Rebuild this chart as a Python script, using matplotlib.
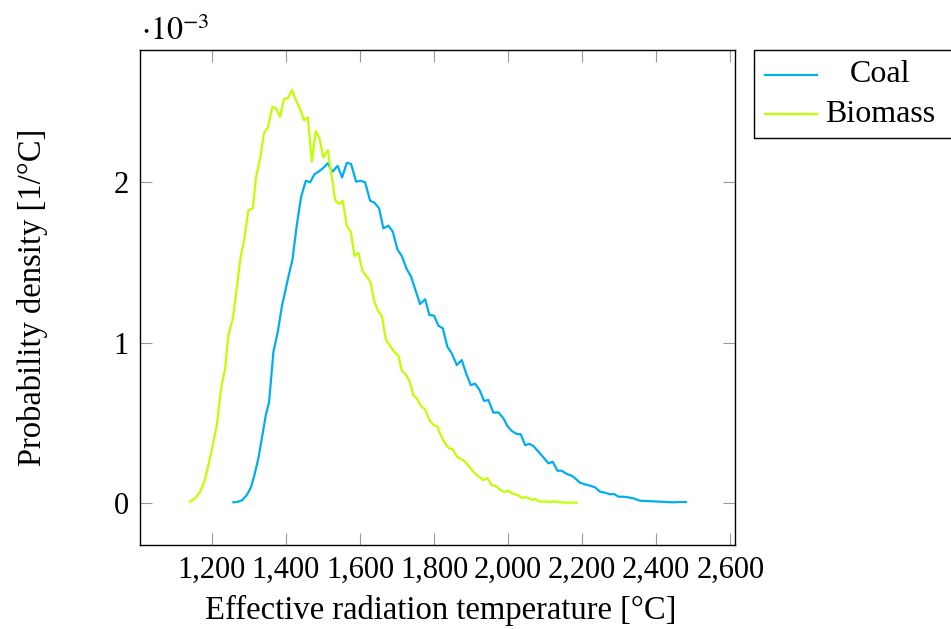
import matplotlib
matplotlib.use("Agg")
import matplotlib.pyplot as plt
from matplotlib.ticker import FuncFormatter, FixedLocator
from matplotlib.patches import Rectangle
from matplotlib.lines import Line2D

# ---- data (density in units of 1e-3 per °C) ----
coal_temp = [1258.3, 1271.8, 1282.6, 1294.5, 1305.3, 1315.0, 1325.8, 1336.6, 1345.8, 1354.7,
             1366.3, 1378.2, 1389.0, 1397.9, 1406.8, 1417.6, 1429.5, 1441.1, 1453.8, 1465.4,
             1477.0, 1487.8, 1499.7, 1513.2, 1525.6, 1539.6, 1551.8, 1564.5, 1576.1, 1589.6,
             1601.7, 1613.9, 1627.4, 1639.0, 1651.7, 1663.3, 1676.8, 1688.7, 1701.1, 1713.0,
             1726.5, 1738.1, 1749.7, 1762.4, 1775.9, 1787.5, 1800.2, 1811.8, 1823.7, 1836.1,
             1847.9, 1861.5, 1875.0, 1886.6, 1899.3, 1910.9, 1923.0, 1935.2, 1946.8, 1960.3,
             1973.8, 1987.3, 1998.1, 2010.0, 2023.5, 2034.3, 2045.9, 2057.5, 2068.3, 2081.8,
             2095.3, 2108.8, 2120.7, 2133.1, 2144.9, 2158.4, 2171.9, 2183.5, 2194.3, 2207.8,
             2221.3, 2234.8, 2248.3, 2261.8, 2275.3, 2286.1, 2297.8, 2311.2, 2324.7, 2338.2,
             2356.3, 2374.4, 2392.2, 2410.3, 2428.4, 2446.2, 2464.3, 2480.5]
coal_density = [0.006, 0.010, 0.021, 0.052, 0.097, 0.176, 0.281, 0.426, 0.550, 0.633,
                0.945, 1.070, 1.226, 1.319, 1.413, 1.517, 1.735, 1.911, 2.011, 2.001,
                2.051, 2.067, 2.088, 2.120, 2.067, 2.104, 2.032, 2.123, 2.115, 2.005,
                2.011, 2.001, 1.886, 1.874, 1.839, 1.714, 1.731, 1.693, 1.583, 1.542,
                1.459, 1.413, 1.330, 1.242, 1.272, 1.174, 1.170, 1.107, 1.091, 0.976,
                0.935, 0.862, 0.893, 0.810, 0.737, 0.746, 0.706, 0.638, 0.644, 0.565,
                0.567, 0.530, 0.482, 0.451, 0.432, 0.430, 0.363, 0.370, 0.357, 0.322,
                0.287, 0.249, 0.259, 0.203, 0.203, 0.183, 0.172, 0.151, 0.128, 0.118,
                0.110, 0.100, 0.072, 0.066, 0.056, 0.058, 0.041, 0.041, 0.037, 0.031,
                0.016, 0.014, 0.012, 0.010, 0.008, 0.006, 0.008, 0.008]

biomass_temp = [1141.4, 1154.9, 1168.4, 1180.0, 1190.8, 1201.6, 1213.5, 1225.1, 1235.9, 1244.8,
                1256.7, 1267.5, 1276.4, 1288.0, 1298.8, 1310.7, 1319.6, 1330.4, 1341.2, 1351.2,
                1363.6, 1373.6, 1384.4, 1394.4, 1405.2, 1416.0, 1426.8, 1438.4, 1448.4, 1459.2,
                1470.0, 1480.8, 1490.5, 1501.3, 1513.2, 1533.1, 1543.7, 1553.7, 1564.5, 1575.3,
                1585.0, 1595.8, 1606.6, 1618.5, 1628.2, 1639.0, 1649.8, 1659.0, 1669.8, 1681.4,
                1692.2, 1703.8, 1713.0, 1724.6, 1733.5, 1744.3, 1755.1, 1764.3, 1775.9, 1787.5,
                1798.3, 1809.1, 1821.0, 1829.9, 1840.7, 1850.7, 1861.5, 1873.1, 1883.9, 1894.7,
                1906.3, 1917.1, 1933.3, 1944.1, 1956.0, 1967.6, 1978.4, 1990.0, 2000.8, 2010.0,
                2023.5, 2037.0, 2050.4, 2063.9, 2072.8, 2086.3, 2099.8, 2113.3, 2126.8, 2140.3,
                2158.4, 2185.4]
biomass_density = [0.010, 0.031, 0.072, 0.135, 0.239, 0.353, 0.488, 0.717, 0.842, 1.049,
                   1.153, 1.340, 1.517, 1.652, 1.828, 1.839, 2.036, 2.151, 2.310, 2.342,
                   2.472, 2.462, 2.410, 2.520, 2.525, 2.577, 2.514, 2.458, 2.389, 2.406,
                   2.130, 2.321, 2.275, 2.155, 2.202, 1.891, 1.866, 1.886, 1.729, 1.693,
                   1.542, 1.562, 1.450, 1.413, 1.381, 1.257, 1.194, 1.170, 1.022, 0.981,
                   0.945, 0.920, 0.827, 0.800, 0.764, 0.675, 0.648, 0.607, 0.586, 0.519,
                   0.488, 0.478, 0.411, 0.374, 0.343, 0.337, 0.291, 0.276, 0.259, 0.228,
                   0.197, 0.172, 0.145, 0.156, 0.112, 0.108, 0.083, 0.070, 0.079, 0.062,
                   0.054, 0.035, 0.037, 0.021, 0.027, 0.010, 0.012, 0.008, 0.012, 0.006,
                   0.004, 0.004]

series_labels = ["Coal", "Biomass"]
x_ticks = [1200, 1400, 1600, 1800, 2000, 2200, 2400, 2600]
y_ticks = [0, 1, 2]

COAL = "#00AEEF"
BIOMASS = "#BFFF00"

plt.rcParams["font.family"] = ["Liberation Serif", "DejaVu Serif"]
plt.rcParams["mathtext.fontset"] = "stix"

W, H = 951, 629
fig = plt.figure(figsize=(W / 100, H / 100), dpi=100)
L, R, T, B = 140, 734.7, 50, 545
ax = fig.add_axes([L / W, 1 - B / H, (R - L) / W, (B - T) / H])

ax.plot(coal_temp, coal_density, color=COAL, lw=1.6)
ax.plot(biomass_temp, biomass_density, color=BIOMASS, lw=1.6)

ax.set_xlim(1006, 2612)
ax.set_ylim(-0.26, 2.826)

ax.xaxis.set_major_locator(FixedLocator(x_ticks))
ax.yaxis.set_major_locator(FixedLocator(y_ticks))
ax.xaxis.set_major_formatter(FuncFormatter(lambda v, p: f"{int(v):,}"))
ax.yaxis.set_major_formatter(FuncFormatter(lambda v, p: f"{int(v)}"))
ax.tick_params(axis="both", which="major", direction="in", length=8.5, width=0.8,
               color="#999999", labelsize=22, top=True, right=True)
ax.tick_params(axis="x", pad=8)
ax.tick_params(axis="y", pad=8)
for s in ax.spines.values():
    s.set_linewidth(1.0)
    s.set_color("black")

ax.set_xlabel("Effective radiation temperature [°C]", fontsize=23.5, va="center")
ax.xaxis.set_label_coords(0.505, -0.133)
ax.set_ylabel("Probability density [1/°C]", fontsize=23.5, va="center")
ax.yaxis.set_label_coords(-0.18, 0.5)

fig.text(141 / W, 1 - 40 / H, r"$\cdot10^{-3}$", fontsize=23, ha="left", va="baseline")

# legend (pgfplots style, outside at top right)
def fx(px):
    return px / W

def fy(py):
    return 1 - py / H

fig.patches.append(Rectangle((fx(754), fy(138)), fx(1000) - fx(754), fy(50) - fy(138),
                             transform=fig.transFigure, fill=False, edgecolor="black",
                             linewidth=1.0, clip_on=False))
for (label, col, py) in [(series_labels[0], COAL, 75), (series_labels[1], BIOMASS, 114)]:
    fig.lines.append(Line2D([fx(765), fx(817)], [fy(py), fy(py)], transform=fig.transFigure,
                            color=col, lw=1.6))
    fig.text(fx(880), fy(py), label, fontsize=23, ha="center", va="center")

fig.savefig("out.png", dpi=100)
